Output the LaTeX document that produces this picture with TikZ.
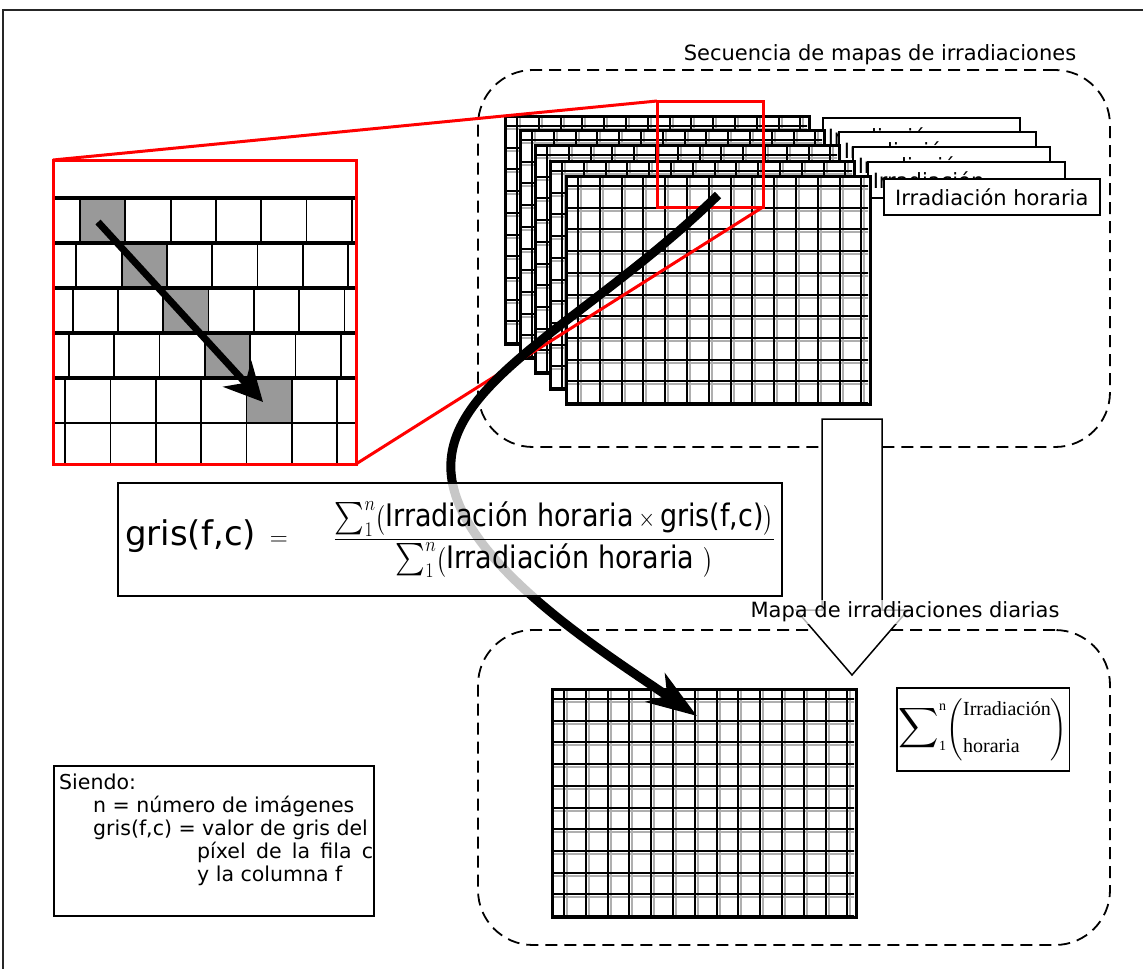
\documentclass[tikz,border=0pt]{standalone}
\usepackage{amsmath,graphicx}
\usepackage{fontspec}
\setmainfont{DejaVu Sans}
\newfontfamily\irserif{Liberation Serif}
\definecolor{irred}{RGB}{255,0,0}
\definecolor{irgray}{RGB}{153,153,153}
\definecolor{irghost}{RGB}{175,175,175}
\usetikzlibrary{arrows.meta,positioning,calc}

\newcommand{\irlabel}{\fontsize{21}{25}\selectfont}
\newcommand{\irlegend}{\fontsize{20.5}{23}\selectfont}
\newcommand{\irformula}{\fontsize{31}{36}\selectfont}
\newcommand{\irsum}{\mathop{\scalebox{1.3}{$\textstyle\sum$}}\nolimits}

\newcommand{\irmap}[3]{%
  \node[mapbox] (#1) at (#2,#3) {};
  \begin{scope}
    \clip (#2+2,#3+2) rectangle (#2+302,#3+226);
    \foreach \k in {0,...,13} \draw[ghostline] ({#2+15+21.8*\k},#3) -- ++(0,228);
    \foreach \k in {0,...,10} \draw[ghostline] (#2,{#3+13+21.7*\k}) -- ++(304,0);
    \foreach \k in {0,...,13} \draw[cellline] ({#2+12+21.8*\k},#3) -- ++(0,228);
    \foreach \k in {0,...,10} \draw[cellline] (#2,{#3+10+21.7*\k}) -- ++(304,0);
  \end{scope}
  \draw[mapframe] (#1.north west) rectangle (#1.south east);
}

\begin{document}
\begin{tikzpicture}[x=1pt,y=-1pt,
  frameline/.style={draw=black!85,line width=2pt},
  groupbox/.style={draw,line width=1.8pt,dash pattern=on 12pt off 7pt,rounded corners=55pt},
  maplabel/.style={font=\irlabel,inner sep=2pt},
  mapbox/.style={fill=white,inner sep=0pt,outer sep=0pt,minimum width=304pt,minimum height=228pt,anchor=north west},
  mapframe/.style={draw,line width=3pt},
  cellline/.style={line width=2pt},
  ghostline/.style={draw=irghost,line width=2pt},
  tabbox/.style={draw,line width=1.5pt,fill=white,font=\irlabel,anchor=north west,minimum height=36pt,inner xsep=5pt,inner ysep=0pt},
  tabback/.style={tabbox,text width=187pt,align=left},
  tabfront/.style={tabbox,minimum width=216pt},
  zoomframe/.style={draw=irred,line width=3pt,inner sep=0pt,outer sep=0pt,anchor=north west},
  zoomline/.style={draw=irred,line width=3pt},
  zoomrule/.style={line width=4.5pt},
  zoomcell/.style={line width=1.8pt},
  zoomarrow/.style={line width=7pt,-{Stealth[length=38pt,width=38pt,inset=12pt]}},
  sweeparrow/.style={line width=9pt,-{Stealth[length=50pt,width=34pt,inset=14pt]}},
  blockarrow/.style={draw,line width=1.5pt,fill=white},
  formulabox/.style={draw,line width=1.5pt,fill=white,fill opacity=0.78,text opacity=1,minimum width=664pt,minimum height=113pt,inner sep=2pt,font=\irformula},
  sumbox/.style={draw,line width=1.5pt,fill=white,minimum width=160pt,minimum height=83pt,inner sep=2pt},
  legendbox/.style={draw,line width=1.5pt,anchor=north west,minimum width=320pt,minimum height=150pt},
  legendtext/.style={anchor=north west,inner xsep=6pt,inner ysep=0pt,align=left,font=\irlegend}]
\useasboundingbox (0,0) rectangle (1143,969);
\draw[frameline] (3,969) -- (3,10) -- (1143,10);

% groups
\node[groupbox,minimum width=632pt,minimum height=377pt] (seqgroup) at (794,258.5) {};
\node[groupbox,minimum width=632pt,minimum height=315pt] (daygroup) at (794,787.5) {};
\node[maplabel] (seqlabel) at (880,55) {Secuencia de mapas de irradiaciones};

% stack of hourly maps
\irmap{map1}{505}{116}
\node[tabback] (tab1) at (822,117) {Irradiación};
\irmap{map2}{520}{130}
\node[tabback] (tab2) at (838,131) {Irradiación};
\irmap{map3}{535}{145}
\node[tabback] (tab3) at (852,146) {Irradiación};
\irmap{map4}{550}{161}
\node[tabback] (tab4) at (867,161) {Irradiación};
\irmap{map5}{566}{176}
\node[tabfront] (tab5) at (883,178) {Irradiación horaria};

% zoomed pixels
\foreach \r in {0,...,4}
  \fill[irgray] ({80-3.7*\r+45.3*\r},{198+45*\r}) rectangle ++(45.3,45);
\foreach \r/\top/\bot in {0/198/243,1/243/288,2/288/333,3/333/378,4/378/464}
  \foreach \k in {0,...,6}
    \draw[zoomcell] ({80-3.7*\r+45.3*\k},\top) -- ({80-3.7*\r+45.3*\k},\bot);
\draw[zoomcell] (55,423) -- (355,423);
\foreach \y in {198,243,288,333,378}
  \draw[zoomrule] (55,\y) -- (355,\y);
\coordinate (pathA) at (98,222);
\coordinate (pathB) at (263,402);
\draw[zoomarrow] (pathA) -- (pathB);

\node[zoomframe,minimum width=303pt,minimum height=304pt] (zoombig) at (53,160) {};
\node[zoomframe,minimum width=106pt,minimum height=106pt] (zoomsq) at (657,101) {};
\draw[zoomline] (zoombig.north west) -- (zoomsq.north west);
\draw[zoomline] (zoombig.south east) -- (zoomsq.south east);

% daily map
\draw[blockarrow] (822,419) -- (882,419) -- (882,610) -- (908,610) -- (852,675)
  -- (796,610) -- (822,610) -- cycle;
\node[maplabel,fill=white,fill opacity=0.7,text opacity=1] (daylabel) at (905,612) {Mapa de irradiaciones diarias};
\irmap{daymap}{552}{689}
\node[sumbox] (sumnode) at (983,729.5) {\irserif\fontsize{20}{24}\selectfont
  $\mathop{\scalebox{1.35}{$\displaystyle\sum$}}\nolimits_{\text{1}}^{\text{n}}\!\left(\begin{array}{@{}l@{}}\text{Irradiación}\\[13pt]\text{horaria}\end{array}\right)$};

\node[legendbox] (legend) at (53,765) {};
\node[legendtext] (legendtext) at (53,774) {Siendo:\\
  \hspace*{34pt}n = número de imágenes\\
  \hspace*{34pt}gris(f,c) = valor de gris del\\
  \hspace*{138pt}\makebox[176pt][s]{píxel de la fila c}\\
  \hspace*{138pt}y la columna f};

% weighted sum arrow
\coordinate (sweepstart) at (718,195);
\coordinate (sweepmid) at (451,472);
\coordinate (sweepend) at (697,716);
\draw[sweeparrow] (sweepstart) .. controls (590,320) and (445,380) .. (sweepmid)
  .. controls (457,560) and (600,650) .. (sweepend);

\node[formulabox] (formula) at (450,539.5) {{\fontsize{34}{38}\selectfont gris(f,c)}\hspace{14pt}{\fontsize{26}{28}\selectfont$=$}\hspace{46pt}%
  \scalebox{0.87}[1]{$\dfrac{\irsum_1^n\bigl(\text{Irradiación horaria}\times\text{gris(f,c)}\bigr)}{\irsum_1^n\bigl(\text{Irradiación horaria\ }\bigr)}$}};
\end{tikzpicture}
\end{document}
